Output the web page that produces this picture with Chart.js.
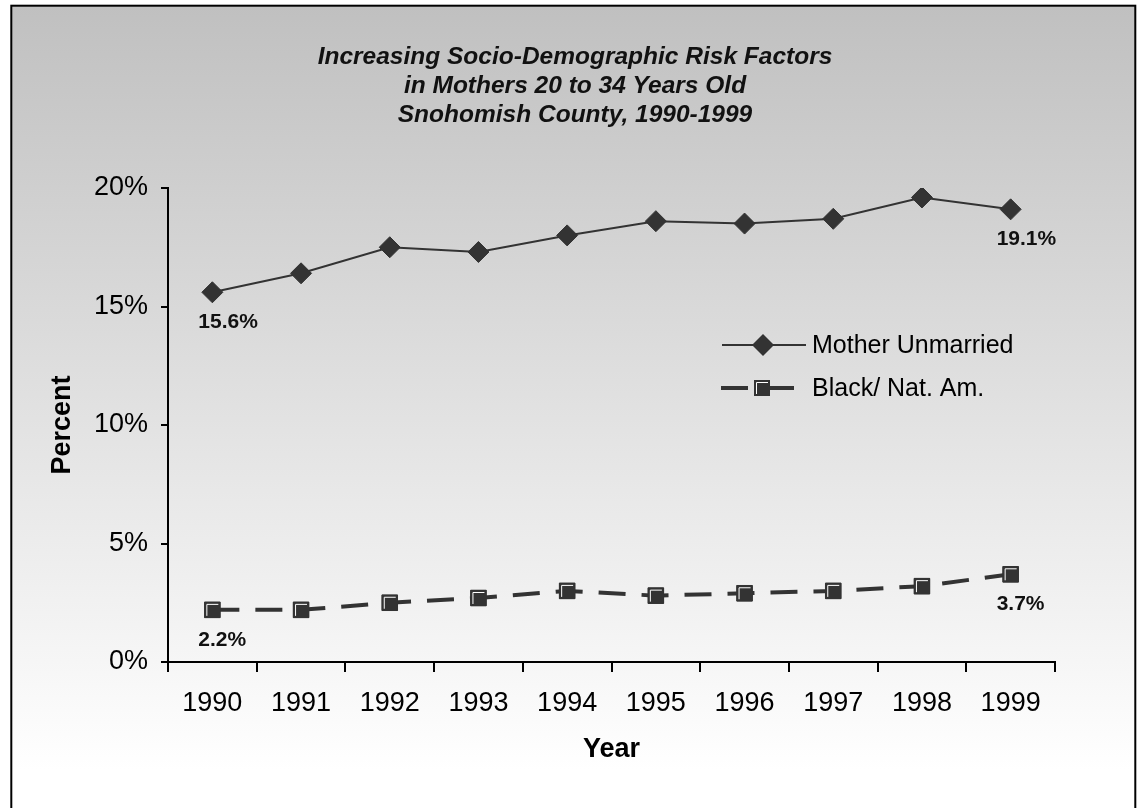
<!DOCTYPE html>
<html>
<head>
<meta charset="utf-8">
<title>Socio-Demographic Risk Factors</title>
<script src="https://cdn.jsdelivr.net/npm/chart.js@4.4.1/dist/chart.umd.min.js"></script>
<style>
  body { margin: 0; background: #fff; }
  canvas { display: block; }
</style>
</head>
<body>
<canvas id="riskChart" width="1144" height="808"></canvas>
<script>
// data
const years = ['1990', '1991', '1992', '1993', '1994', '1995', '1996', '1997', '1998', '1999'];
const motherUnmarried = [15.6, 16.4, 17.5, 17.3, 18.0, 18.6, 18.5, 18.7, 19.6, 19.1];
const blackNatAm = [2.2, 2.2, 2.5, 2.7, 3.0, 2.8, 2.9, 3.0, 3.2, 3.7];
const yTicks = [0, 5, 10, 15, 20];
const seriesNames = ['Mother Unmarried', 'Black/ Nat. Am.'];
const titleLines = [
    'Increasing Socio-Demographic Risk Factors',
    'in Mothers 20 to 34 Years Old',
    'Snohomish County, 1990-1999'
];
const labelledPoints = [0, 9]; // only first and last year get a value label

const FONT = '"Liberation Sans", Arial, sans-serif';
const INK = '#333333';

// grey-to-white panel with a black frame, plus the cut-off caption above it
const panelPlugin = {
    id: 'panel',
    beforeDraw(chart) {
        const ctx = chart.ctx;
        ctx.save();
        ctx.fillStyle = '#ffffff';
        ctx.fillRect(0, 0, chart.width, chart.height);
        const grad = ctx.createLinearGradient(0, 6, 0, 770);
        grad.addColorStop(0, '#c0c0c0');
        grad.addColorStop(1, '#ffffff');
        ctx.fillStyle = grad;
        ctx.fillRect(11, 6, 1124, chart.height);
        ctx.strokeStyle = '#000';
        ctx.lineWidth = 2;
        ctx.strokeRect(11.3, 5.7, 1124, chart.height + 20);

        ctx.fillStyle = '#000';
        ctx.font = '18px ' + FONT;
        ctx.textAlign = 'left';
        ctx.textBaseline = 'alphabetic';
        ctx.fillText('Figure', 15, -4);

        // title
        ctx.fillStyle = '#111';
        ctx.font = 'italic bold 24.5px ' + FONT;
        ctx.textAlign = 'center';
        ctx.textBaseline = 'middle';
        titleLines.forEach((line, i) => ctx.fillText(line, 575, 57 + i * 29));
        ctx.restore();
    }
};

function drawSquareMarker(ctx, x, y, half) {
    ctx.fillStyle = INK;
    ctx.fillRect(x - half, y - half, half * 2, half * 2);
    ctx.strokeStyle = '#ffffff';
    ctx.lineWidth = 1;
    ctx.beginPath();
    ctx.moveTo(x - half + 2.5, y + half - 2);
    ctx.lineTo(x - half + 2.5, y - half + 2.5);
    ctx.lineTo(x + half - 2, y - half + 2.5);
    ctx.stroke();
}

// white highlight on the square markers, value labels and the legend
const overlayPlugin = {
    id: 'overlay',
    afterDatasetsDraw(chart) {
        const ctx = chart.ctx;
        ctx.save();

        chart.getDatasetMeta(1).data.forEach(pt => drawSquareMarker(ctx, pt.x, pt.y, 8));

        ctx.fillStyle = '#111';
        ctx.font = 'bold 21px ' + FONT;
        ctx.textAlign = 'left';
        ctx.textBaseline = 'middle';
        chart.data.datasets.forEach((ds, d) => {
            const pts = chart.getDatasetMeta(d).data;
            labelledPoints.forEach(i => {
                ctx.fillText(ds.data[i].toFixed(1) + '%', pts[i].x - 14, pts[i].y + 30);
            });
        });

        // legend
        const rows = [345, 388];
        ctx.strokeStyle = INK;
        ctx.lineWidth = 2;
        ctx.beginPath();
        ctx.moveTo(722, rows[0]);
        ctx.lineTo(806, rows[0]);
        ctx.stroke();
        ctx.fillStyle = INK;
        ctx.beginPath();
        ctx.moveTo(763, rows[0] - 11);
        ctx.lineTo(774, rows[0]);
        ctx.lineTo(763, rows[0] + 11);
        ctx.lineTo(752, rows[0]);
        ctx.closePath();
        ctx.fill();

        ctx.lineWidth = 4;
        ctx.beginPath();
        ctx.moveTo(721, rows[1]);
        ctx.lineTo(748, rows[1]);
        ctx.moveTo(770, rows[1]);
        ctx.lineTo(794, rows[1]);
        ctx.stroke();
        drawSquareMarker(ctx, 762, rows[1], 8);

        ctx.fillStyle = '#000';
        ctx.font = '25px ' + FONT;
        seriesNames.forEach((name, i) => ctx.fillText(name, 812, rows[i] + 1));
        ctx.restore();
    }
};

const ctx = document.getElementById('riskChart').getContext('2d');
new Chart(ctx, {
    type: 'line',
    data: {
        labels: years,
        datasets: [{
            label: seriesNames[0],
            data: motherUnmarried,
            borderColor: INK,
            borderWidth: 2,
            pointStyle: 'rectRot',
            pointRadius: 10.5,
            pointBackgroundColor: INK,
            pointBorderColor: INK,
            pointBorderWidth: 1,
            tension: 0
        }, {
            label: seriesNames[1],
            data: blackNatAm,
            borderColor: INK,
            borderWidth: 4,
            borderDash: [27, 16],
            pointStyle: 'rect',
            pointRadius: 11,
            pointBackgroundColor: INK,
            pointBorderColor: INK,
            pointBorderWidth: 1,
            tension: 0
        }]
    },
    options: {
        responsive: false,
        animation: false,
        layout: { padding: { top: 188, right: 89, bottom: 0, left: 0 } },
        plugins: {
            legend: { display: false },
            tooltip: { enabled: false }
        },
        scales: {
            x: {
                offset: true,
                grid: {
                    offset: true,
                    drawOnChartArea: false,
                    tickLength: 10,
                    color: '#000',
                    lineWidth: 2
                },
                border: { color: '#000', width: 2 },
                ticks: {
                    color: '#000',
                    font: { family: FONT, size: 27 },
                    padding: 15,
                    maxRotation: 0
                },
                title: {
                    display: true,
                    text: 'Year',
                    color: '#000',
                    font: { family: FONT, size: 27, weight: 'bold' },
                    padding: { top: 0, bottom: 42 }
                },
                afterFit(scale) { scale.height = 146; }
            },
            y: {
                min: 0,
                max: 20,
                afterBuildTicks(scale) { scale.ticks = yTicks.map(v => ({ value: v })); },
                grid: {
                    drawOnChartArea: false,
                    tickLength: 7,
                    color: '#000',
                    lineWidth: 2
                },
                border: { color: '#000', width: 2 },
                ticks: {
                    color: '#000',
                    font: { family: FONT, size: 27 },
                    padding: 13,
                    callback: v => v + '%'
                },
                title: {
                    display: true,
                    text: 'Percent',
                    color: '#000',
                    font: { family: FONT, size: 27, weight: 'bold' },
                    padding: { top: 46, bottom: 0 }
                },
                afterFit(scale) { scale.width = 168; }
            }
        }
    },
    plugins: [panelPlugin, overlayPlugin]
});
</script>
</body>
</html>
